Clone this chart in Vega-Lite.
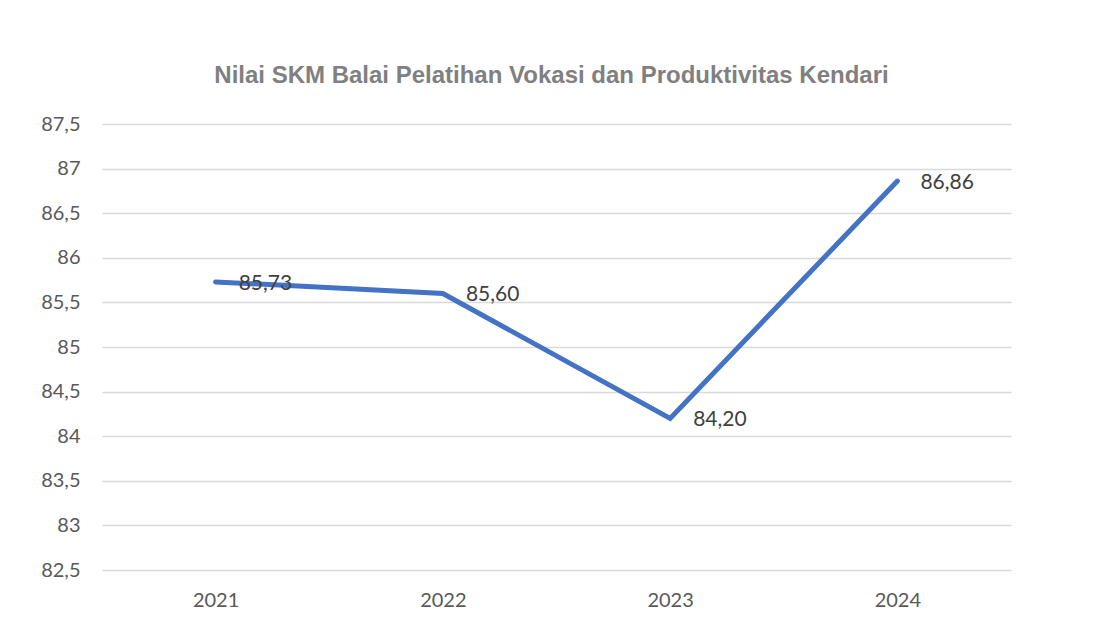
{
  "$schema": "https://vega.github.io/schema/vega-lite/v6.json",
  "autosize": "none",
  "width": 909,
  "height": 446,
  "padding": {"left": 102, "top": 124, "right": 88, "bottom": 60},
  "background": "white",
  "config": {
    "view": {"stroke": null},
    "locale": {"number": {"decimal": ",", "thousands": ".", "grouping": [3], "currency": ["", ""]}}
  },
  "title": {
    "text": "Nilai SKM Balai Pelatihan Vokasi dan Produktivitas Kendari",
    "font": "Liberation Sans Narrow, Liberation Sans, Arial",
    "fontSize": 24,
    "fontWeight": "bold",
    "color": "#808080",
    "anchor": "middle",
    "offset": 26,
    "dx": -5
  },
  "data": {
    "values": [
      {"year": "2021", "value": 85.73},
      {"year": "2022", "value": 85.60},
      {"year": "2023", "value": 84.20},
      {"year": "2024", "value": 86.86}
    ]
  },
  "encoding": {
    "x": {
      "field": "year",
      "type": "ordinal",
      "scale": {"paddingInner": 0, "paddingOuter": 0},
      "axis": {
        "title": null,
        "labelAngle": 0,
        "domain": false,
        "ticks": false,
        "grid": false,
        "labelFont": "Lato",
        "labelFontSize": 20,
        "labelColor": "#595959",
        "labelPadding": 20
      }
    },
    "y": {
      "field": "value",
      "type": "quantitative",
      "scale": {"domain": [82.5, 87.5], "zero": false, "nice": false},
      "axis": {
        "title": null,
        "values": [82.5, 83, 83.5, 84, 84.5, 85, 85.5, 86, 86.5, 87, 87.5],
        "format": ".1~f",
        "domain": false,
        "ticks": false,
        "gridColor": "#d9d9d9",
        "gridWidth": 1.5,
        "labelFont": "Lato",
        "labelFontSize": 20,
        "labelColor": "#595959",
        "labelPadding": 22
      }
    }
  },
  "layer": [
    {
      "mark": {"type": "line", "color": "#4472C4", "strokeWidth": 5, "strokeCap": "round", "strokeJoin": "miter"}
    },
    {
      "mark": {"type": "text", "align": "left", "baseline": "middle", "dx": 23, "dy": 2, "font": "Lato", "fontSize": 21, "color": "#404040"},
      "encoding": {
        "text": {"field": "value", "type": "quantitative", "format": ".2f"}
      }
    }
  ]
}
